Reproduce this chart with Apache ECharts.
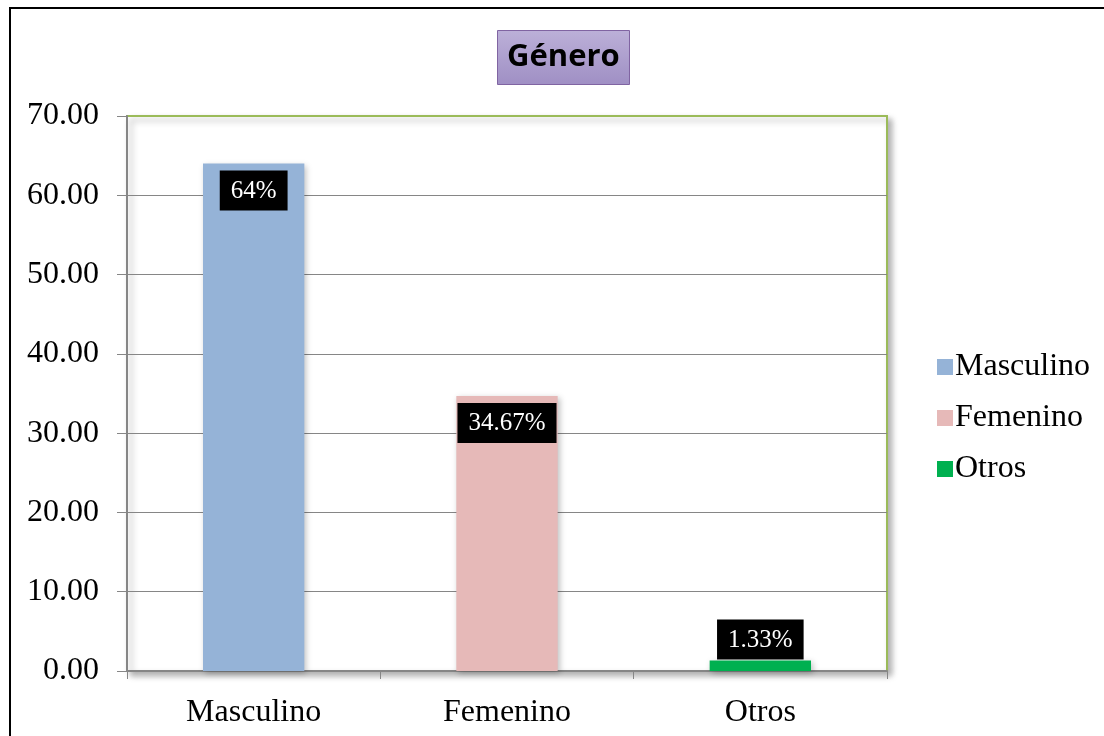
<!DOCTYPE html>
<html>
<head>
<meta charset="utf-8">
<script src="https://cdn.jsdelivr.net/npm/echarts@6/dist/echarts.min.js"></script>
<style>
  html, body { margin: 0; padding: 0; background: #fff; }
  #frame { position: absolute; left: 9px; top: 7px; width: 1100px; height: 740px; border: 2px solid #000; box-sizing: border-box; }
  #main { position: absolute; left: 0; top: 0; width: 1104px; height: 736px; }
</style>
</head>
<body>
<div id="frame"></div>
<div id="main"></div>
<script>
const categories = ['Masculino', 'Femenino', 'Otros']
const values = [64, 34.67, 1.33]
const labels = ['64%', '34.67%', '1.33%']
const colors = ['#95b3d7', '#e6b9b8', '#00b050']
const yTicks = [0, 10, 20, 30, 40, 50, 60, 70]

const chartDom = document.getElementById('main')
const myChart = echarts.init(chartDom)

const series = categories.map((name, i) => ({
  name: name,
  type: 'bar',
  stack: 'all',
  barWidth: '40%',
  data: categories.map((c, j) => (j === i ? values[i] : '-')),
  itemStyle: {
    color: colors[i],
    shadowColor: 'rgba(0,0,0,0.25)',
    shadowBlur: 6,
    shadowOffsetX: 2,
    shadowOffsetY: 2
  },
  label: {
    show: true,
    position: values[i] > 5 ? 'insideTop' : 'top',
    distance: values[i] > 5 ? 7 : 1,
    formatter: () => labels[i],
    fontFamily: 'Liberation Serif',
    fontSize: 25,
    color: '#fff',
    backgroundColor: '#000',
    padding: [8, 11, 7, 11]
  }
}))

// last split line (at the top) takes the green plot border colour
const splitColors = yTicks.map((t, i) => (i === yTicks.length - 1 ? '#9bbb59' : '#868686'))

const option = {
  animation: false,
  title: {
    text: 'Género',
    left: 497,
    top: 30,
    padding: [12, 10, 12, 10],
    backgroundColor: {
      type: 'linear', x: 0, y: 0, x2: 0, y2: 1,
      colorStops: [{ offset: 0, color: '#bcb0d8' }, { offset: 1, color: '#9f8fc4' }]
    },
    borderColor: '#8064a2',
    borderWidth: 1,
    textStyle: {
      fontFamily: 'Open Sans',
      fontWeight: 'bold',
      fontSize: 31,
      color: '#000'
    }
  },
  legend: {
    orient: 'vertical',
    left: 932,
    top: 346,
    itemWidth: 16,
    itemHeight: 16,
    itemGap: 19,
    icon: 'rect',
    textStyle: { fontFamily: 'Liberation Serif', fontSize: 32, color: '#000', padding: [0, 0, 0, -3] },
    data: categories
  },
  grid: {
    left: 127,
    right: 217,
    top: 116,
    bottom: 65,
    show: true,
    backgroundColor: '#fff',
    borderColor: '#9bbb59',
    borderWidth: 2,
    shadowColor: 'rgba(0,0,0,0.3)',
    shadowBlur: 6,
    shadowOffsetX: 4,
    shadowOffsetY: 4
  },
  xAxis: {
    type: 'category',
    data: categories,
    axisLine: { lineStyle: { color: '#868686', width: 2 } },
    axisTick: { show: true, length: 8, lineStyle: { color: '#868686' } },
    axisLabel: {
      margin: 26,
      fontFamily: 'Liberation Serif',
      fontSize: 32,
      color: '#000'
    }
  },
  yAxis: {
    type: 'value',
    min: yTicks[0],
    max: yTicks[yTicks.length - 1],
    interval: 10,
    axisLine: { show: true, lineStyle: { color: '#868686', width: 2 } },
    axisTick: { show: true, length: 10, lineStyle: { color: '#868686' } },
    splitLine: { lineStyle: { color: splitColors, width: 1 } },
    axisLabel: {
      margin: 28,
      fontFamily: 'Liberation Serif',
      fontSize: 32,
      color: '#000',
      formatter: v => v.toFixed(2)
    }
  },
  series: series
}
myChart.setOption(option)

window.addEventListener('resize', () => {
  myChart.resize()
})
</script>
</body>
</html>
